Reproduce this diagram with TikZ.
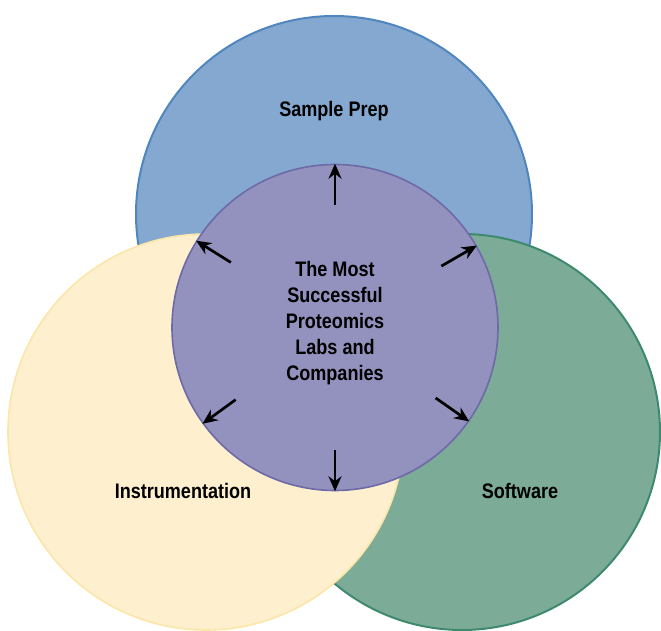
\documentclass[tikz,border=0pt]{standalone}
\usepackage{fontspec}
\setmainfont{Liberation Sans}[FakeStretch=0.86]
\usetikzlibrary{arrows.meta,calc}
\definecolor{prepfill}{HTML}{85A8D0}
\definecolor{prepline}{HTML}{4F86BD}
\definecolor{instfill}{HTML}{FEF0CE}
\definecolor{instline}{HTML}{FBE6A8}
\definecolor{softfill}{HTML}{7CAB98}
\definecolor{softline}{HTML}{3E8A6E}
\definecolor{hubfill}{HTML}{9391BD}
\definecolor{hubline}{HTML}{6E6AA8}
\tikzset{
  area/.style={circle,minimum size=198pt,inner sep=0pt},
  lbl/.style={font=\bfseries\fontsize{10.5}{13}\selectfont,align=center},
  outarrow/.style={line width=1.35pt,-{Stealth[length=7.5pt,width=6.5pt]}}
}
\begin{document}
\begin{tikzpicture}[x=0.5pt,y=-0.5pt]
        \useasboundingbox (0,0) rectangle (661,631);
        % the three fields
        \node[area,draw=prepline,line width=1pt,fill=prepfill] (prep) at (334,214) {};
        \node[area,draw=softline,line width=1pt,fill=softfill] (soft) at (462,432) {};
        \node[area,draw=instline,line width=0.8pt,fill=instfill] (inst) at (206,432) {};
        % centre
        \node[circle,minimum size=163pt,inner sep=0pt,draw=hubline,line width=0.8pt,fill=hubfill] (hub) at (335,327.5) {};
        \node[lbl] (preptext) at (334,111) {Sample Prep};
        \node[lbl] (insttext) at (183,491) {Instrumentation};
        \node[lbl] (softtext) at (520,491) {Software};
        \node[lbl] (hubtext) at (335,323) {The Most\\Successful\\Proteomics\\Labs and\\Companies};
        % arrows out of the centre
        \foreach \a in {90,30,148,216,270,325}
          \draw[outarrow] ($(hub.center)!0.75!(hub.\a)$) -- (hub.\a);
      \end{tikzpicture}
\end{document}
